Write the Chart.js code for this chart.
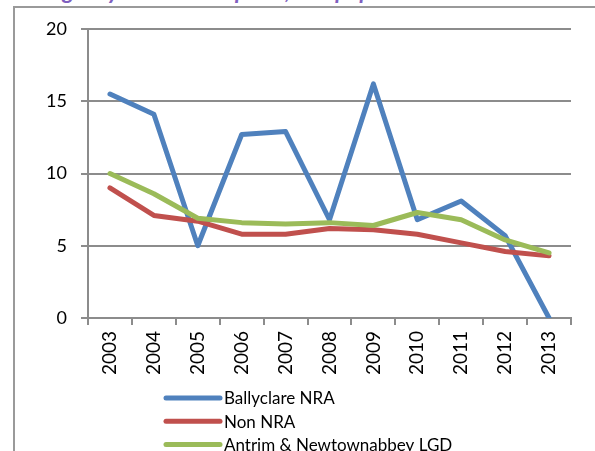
<!DOCTYPE html>
<html>
<head>
<meta charset="utf-8">
<script src="https://cdn.jsdelivr.net/npm/chart.js@4.4.1/dist/chart.umd.min.js"></script>
<style>
  html, body { margin: 0; padding: 0; background: #fff; overflow: hidden; }
  #wrap { position: relative; width: 595px; height: 451px; overflow: hidden; }
  #title { position: absolute; left: 13px; top: -21px; font: italic bold 23px Lato, sans-serif; line-height: 23px; color: #7f5fbf; white-space: nowrap; }
  #frame { position: absolute; left: 13px; top: 6px; width: 700px; height: 600px; border-left: 2px solid #9a9a9a; border-top: 2px solid #9a9a9a; }
  canvas { position: absolute; left: 0; top: 0; }
</style>
</head>
<body>
<div id="wrap">
  <div id="title">Emergency admissions per 1,000 population</div>
  <div id="frame"></div>
  <canvas id="chart" width="595" height="451"></canvas>
</div>
<script>
/* ── data ────────────────────────────────────────────────────────────────── */
var years = ['2003', '2004', '2005', '2006', '2007', '2008', '2009', '2010', '2011', '2012', '2013'];
var ballyclare = [15.5, 14.1, 5.0, 12.7, 12.9, 6.8, 16.2, 6.8, 8.1, 5.7, 0];
var nonNra = [9.0, 7.1, 6.7, 5.8, 5.8, 6.2, 6.1, 5.8, 5.2, 4.6, 4.3];
var antrimLgd = [10.0, 8.6, 6.9, 6.6, 6.5, 6.6, 6.4, 7.3, 6.8, 5.4, 4.5];
var seriesNames = ['Ballyclare NRA', 'Non NRA', 'Antrim & Newtownabbey LGD'];
var yMin = 0, yMax = 20, yStep = 5;

var COLORS = {
  blue: '#4f81bd',
  red: '#c0504d',
  green: '#9bbb59',
  grid: '#8c8c8c',
  text: '#000000',
};
var FONT = 'Lato, "Open Sans", sans-serif';

// Excel style legend: one entry per row, under the axis labels
var stackedLegend = {
  id: 'stackedLegend',
  afterDraw: function (chart) {
    var ctx = chart.ctx;
    var x0 = 166, x1 = 220, top = 398, rowH = 23.2;
    ctx.save();
    ctx.font = '17px ' + FONT;
    ctx.textBaseline = 'middle';
    ctx.textAlign = 'left';
    chart.data.datasets.forEach(function (ds, i) {
      var y = top + i * rowH;
      ctx.strokeStyle = ds.borderColor;
      ctx.lineWidth = 5;
      ctx.lineCap = 'round';
      ctx.beginPath();
      ctx.moveTo(x0, y);
      ctx.lineTo(x1, y);
      ctx.stroke();
      ctx.fillStyle = COLORS.text;
      ctx.fillText(ds.label, x1 + 4, y + 1);
    });
    ctx.restore();
  },
};

function series(label, data, color, order) {
  return {
    label: label, data: data, order: order,
    borderColor: color, backgroundColor: color,
    borderWidth: 5, pointRadius: 0, pointHoverRadius: 0,
    tension: 0, borderCapStyle: 'round', borderJoinStyle: 'round',
  };
}

new Chart(document.getElementById('chart'), {
  type: 'line',
  data: {
    labels: years,
    datasets: [
      series(seriesNames[0], ballyclare, COLORS.blue, 3),
      series(seriesNames[1], nonNra, COLORS.red, 2),
      series(seriesNames[2], antrimLgd, COLORS.green, 1),
    ],
  },
  options: {
    responsive: false, animation: false,
    layout: { padding: { left: 0, top: 29, right: 24, bottom: 0 } },
    plugins: { legend: { display: false }, tooltip: { enabled: false } },
    scales: {
      x: {
        offset: true,
        afterFit: function (s) { s.height = 133; },
        ticks: {
          color: COLORS.text, font: { family: FONT, size: 19 },
          minRotation: 90, maxRotation: 90, autoSkip: false, padding: 6,
        },
        grid: { offset: true, drawOnChartArea: false, drawTicks: true, tickLength: 7, color: COLORS.grid, lineWidth: 2 },
        border: { color: COLORS.grid, width: 2 },
      },
      y: {
        min: yMin, max: yMax,
        afterFit: function (s) { s.width = 88; },
        ticks: { stepSize: yStep, color: COLORS.text, font: { family: FONT, size: 18 }, padding: 14 },
        grid: { color: COLORS.grid, lineWidth: 2, tickLength: 7 },
        border: { color: COLORS.grid, width: 2 },
      },
    },
  },
  plugins: [stackedLegend],
});
</script>
</body>
</html>
